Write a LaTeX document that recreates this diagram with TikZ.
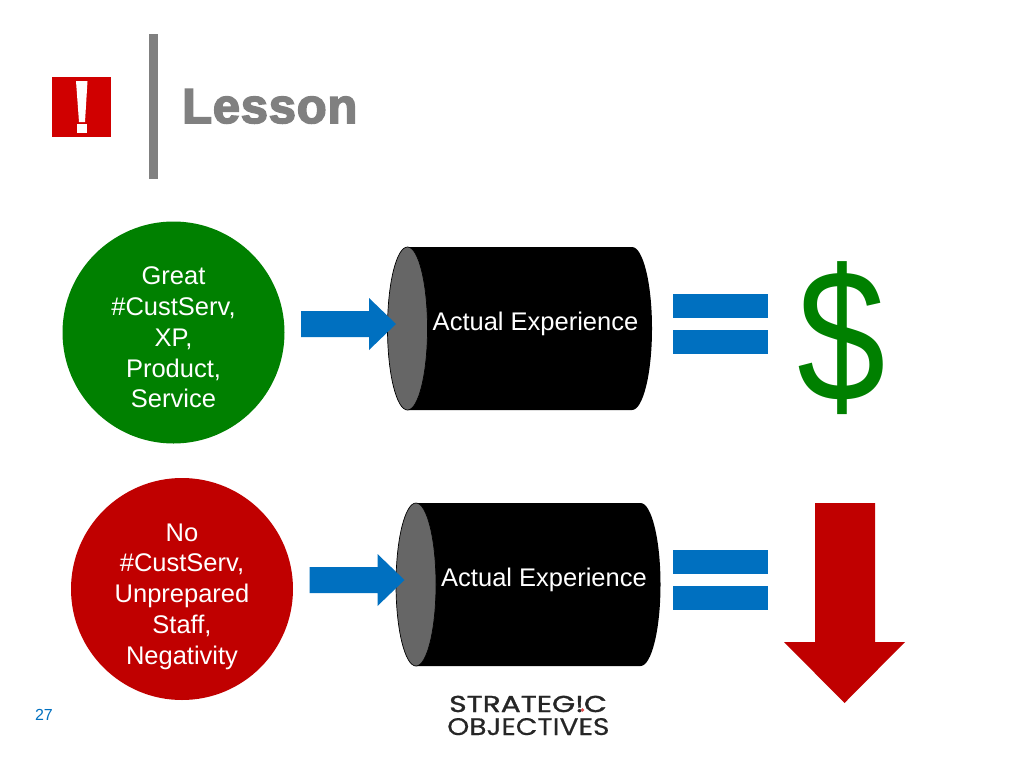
\documentclass[tikz,border=0pt]{standalone}
\usepackage{fontspec}
\setmainfont{Liberation Sans}
\newfontfamily\heavy[FakeBold=3.2,LetterSpace=1.5]{Liberation Sans Bold}
\newfontfamily\logofont[FakeBold=0.35]{Poppins}
\newfontfamily\logofontb[FakeBold=1.2]{Poppins}
\definecolor{goodgreen}{HTML}{008000}
\definecolor{badred}{HTML}{C00000}
\definecolor{iconred}{HTML}{D00000}
\definecolor{barblue}{HTML}{0070C0}
\definecolor{titlegray}{HTML}{808080}
\definecolor{capgray}{HTML}{666666}
\tikzset{
  bubbletext/.style={inner sep=0pt,align=center,text=white,
    font=\fontsize{25.5}{30.75}\selectfont},
  cyltext/.style={text=white,inner sep=0pt,font=\fontsize{25.5}{29}\selectfont},
  blockarrow/.style={fill=barblue,draw=none},
  eqbar/.style={fill=barblue,draw=none},
  logotext/.style={inner sep=0pt,text=black!85}
}
\newcommand{\cylshape}[2]{% left-ellipse centre x, top y
  \fill[black] (#1,#2) -- (#1+224.5,#2) arc[start angle=-90,end angle=90,x radius=20,y radius=81.5]
     -- (#1,#2+163) -- cycle;
  \draw[fill=capgray,draw=black,line width=0.7pt] (#1,#2+81.5) ellipse[x radius=20,y radius=81.5];
}
\newcommand{\rightblock}[2]{% shaft left x, centre y
  \fill[blockarrow] (#1,#2-13) -- (#1+68,#2-13) -- (#1+68,#2-26) -- (#1+95,#2)
     -- (#1+68,#2+26) -- (#1+68,#2+13) -- (#1,#2+13) -- cycle;
}
\begin{document}
\begin{tikzpicture}[x=1pt,y=-1pt]
\useasboundingbox[fill=white] (0,0) rectangle (1024,768);
% header
\fill[iconred] (52,77) rectangle (111,137);
\fill[white] (76,81) -- (87.5,81) -- (85,122) -- (79,122) -- cycle;
\fill[white] (76.5,124) rectangle (87,133);
\fill[titlegray] (149,34) rectangle (158,179);
\node[anchor=base west,inner sep=0pt,text=titlegray,font=\heavy\fontsize{49}{50}\selectfont] (title) at (182,123) {Lesson};
% row 1
\node[circle,minimum size=222pt,fill=goodgreen] (great) at (173.5,332.5) {};
\node[bubbletext] (greattext) at (173.5,337.5) {Great\\\#CustServ,\\XP,\\Product,\\Service};
\cylshape{407.5}{247}
\rightblock{301}{324}
\node[cyltext] (exp1) at (535.5,324) {Actual Experience};
\fill[eqbar] (673,294) rectangle (768,318);
\fill[eqbar] (673,330) rectangle (768,354);
\node[text=goodgreen,inner sep=0pt,xscale=0.84,font=\fontsize{189}{189}\selectfont] (dollar) at (842,338) {\$};
% row 2
\node[circle,minimum size=222pt,fill=badred] (no) at (182,589) {};
\node[bubbletext] (notext) at (182,596.5) {No\\\#CustServ,\\Unprepared\\Staff,\\Negativity};
\cylshape{416}{503}
\rightblock{309.5}{580}
\node[cyltext] (exp2) at (544,580) {Actual Experience};
\fill[eqbar] (673,550) rectangle (768,574);
\fill[eqbar] (673,586) rectangle (768,610);
\fill[badred] (815,503) -- (875,503) -- (875,642) -- (905,642) -- (844.5,703) -- (784,642) -- (815,642) -- cycle;
% footer
\node[text=barblue,inner sep=0pt,font=\fontsize{16}{18}\selectfont] (page) at (44,715) {27};
\node[logotext,anchor=base west,xscale=1.29,font=\logofontb\fontsize{23}{24}\selectfont] (logo1) at (449,712) {STRATEG!C};
\node[logotext,anchor=base west,xscale=1.17,font=\logofont\fontsize{24}{24}\selectfont] (logo2) at (447,735) {OBJECTIVES};
\fill[iconred!70!white] (582.5,710) circle[radius=1.8];
\end{tikzpicture}
\end{document}
